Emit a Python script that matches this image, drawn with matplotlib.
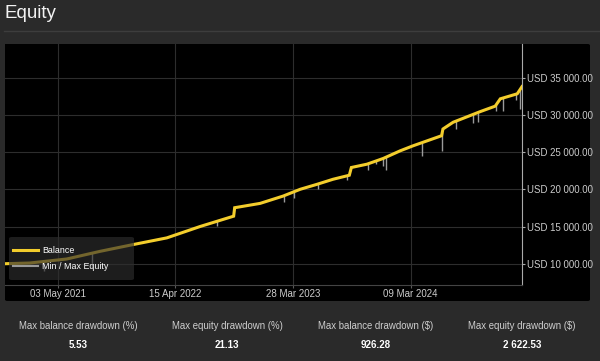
import numpy as np
import matplotlib
matplotlib.use("Agg")
import matplotlib.pyplot as plt
import matplotlib.dates as mdates
from matplotlib.patches import FancyBboxPatch
from matplotlib.ticker import FuncFormatter

plt.rcParams["font.family"] = ["Liberation Sans", "DejaVu Sans"]

# balance curve
balance_dates = np.array([
    "2020-11-29", "2021-02-10", "2021-05-30", "2021-09-05", "2021-12-11",
    "2022-03-21", "2022-06-27", "2022-10-04", "2022-10-07", "2022-12-21",
    "2023-02-27", "2023-04-18", "2023-06-07", "2023-07-24", "2023-09-10",
    "2023-09-16", "2023-11-01", "2023-12-19", "2024-02-07", "2024-03-16",
    "2024-06-08", "2024-06-12", "2024-07-12", "2024-09-30", "2024-11-13",
    "2024-11-28", "2025-01-17", "2025-01-31"], dtype="datetime64[D]")
balance_values = [
    10000, 10095, 10635, 11662, 12568,
    13473, 15000, 16392, 17527, 18108,
    19095, 20000, 20676, 21351, 21892,
    22932, 23378, 24149, 25176, 25851,
    27203, 28108, 29014, 30446, 31176,
    32162, 32838, 33800]

# min equity spikes
spike_dates = np.array([
    "2021-03-25", "2021-08-11", "2022-08-15", "2023-03-02", "2023-03-31",
    "2023-06-09", "2023-09-04", "2023-11-04", "2023-11-28", "2023-12-19",
    "2023-12-27", "2024-04-11", "2024-06-10", "2024-07-21", "2024-09-09",
    "2024-09-23", "2024-11-16", "2024-12-05", "2025-01-14", "2025-01-24"],
    dtype="datetime64[D]")
spike_lows = [
    9000, 9420, 15040, 18280, 18830,
    20000, 21220, 22600, 23380, 23150,
    22640, 24460, 25180, 28110, 28920,
    28990, 30580, 30540, 32030, 30740]

x_tick_dates = np.array(["2021-05-03", "2022-04-15", "2023-03-28", "2024-03-09"],
                        dtype="datetime64[D]")
y_ticks = [10000, 15000, 20000, 25000, 30000, 35000]

stat_labels = ["Max balance drawdown (%)", "Max equity drawdown (%)",
               "Max balance drawdown ($)", "Max equity drawdown ($)"]
stat_values = ["5.53", "21.13", "926.28", "2 622.53"]

BG = "#2a2a2a"
YELLOW = "#f3cd2c"
GREY = "#9a9a9a"

W, H = 600, 361
fig = plt.figure(figsize=(W / 100, H / 100), dpi=100, facecolor=BG)

# title + separator
fig.text(5 / W, 1 - 14 / H, "Equity", color="#f2f2f2", fontsize=13.5, va="center", ha="left")
fig.add_artist(plt.Line2D([4 / W, 1], [1 - 31 / H, 1 - 31 / H], color="#3d3d3d", lw=1))

# black panel behind the axes
panel = FancyBboxPatch((5 / W, 1 - 301 / H), 585 / W, 257 / H,
                       boxstyle="round,pad=0,rounding_size=0.004",
                       transform=fig.transFigure, facecolor="black", edgecolor="none",
                       zorder=-5)
fig.add_artist(panel)

ax = fig.add_axes([5 / W, 1 - 285 / H, 517 / W, 241 / H])
ax.set_facecolor("black")

bx = mdates.date2num(balance_dates)
sx = mdates.date2num(spike_dates)
spike_tops = np.interp(sx, bx, balance_values)

ax.vlines(spike_dates, spike_lows, spike_tops, color=GREY, lw=1.0, zorder=2)
ax.plot(balance_dates, balance_values, color=YELLOW, lw=2.2, zorder=3, label="Balance",
        solid_joinstyle="miter")
ax.plot([], [], color=GREY, lw=1.5, label="Min / Max Equity")

ax.set_xlim(balance_dates[0], balance_dates[-1])
ax.set_ylim(7140, 39530)

ax.set_xticks(x_tick_dates)
ax.xaxis.set_major_formatter(mdates.DateFormatter("%d %b %Y"))
ax.set_yticks(y_ticks)
ax.yaxis.set_major_formatter(FuncFormatter(lambda v, p: "USD " + f"{v:,.2f}".replace(",", " ")))
ax.yaxis.tick_right()

ax.grid(True, color="#2d2d2d", lw=0.8)
ax.set_axisbelow(True)
ax.tick_params(axis="x", colors="#5a5a5a", labelcolor="#cccccc", labelsize=7, length=2.2, pad=1)
ax.tick_params(axis="y", colors="#aaaaaa", labelcolor="#cccccc", labelsize=6.9, length=2, pad=1.5)

for s in ["left", "top"]:
    ax.spines[s].set_visible(False)
ax.spines["right"].set_color("#aaaaaa")
ax.spines["right"].set_linewidth(0.8)
ax.spines["bottom"].set_color("#444444")
ax.spines["bottom"].set_linewidth(0.8)

# legend: translucent box drawn separately, legend itself frameless
legend_bg = FancyBboxPatch((4 / 517, 5 / 241), 125 / 517, 43 / 241,
                           boxstyle="round,pad=0,rounding_size=0.006",
                           transform=ax.transAxes, facecolor="#2e2e2e", alpha=0.65,
                           edgecolor="none", zorder=4)
ax.add_patch(legend_bg)
leg = ax.legend(loc="center left", bbox_to_anchor=(8 / 517, 26.5 / 241), borderaxespad=0,
                borderpad=0, frameon=False, fontsize=6.4, labelcolor="white",
                handlelength=2.85, handletextpad=0.45, labelspacing=0.75)
leg.set_zorder(5)

# stats row
centers = [78, 227, 376, 522]
for cx, lab, val in zip(centers, stat_labels, stat_values):
    fig.text(cx / W, 1 - 326 / H, lab, color="#cfcfcf", fontsize=6.9, ha="center", va="center")
    fig.text(cx / W, 1 - 345 / H, val, color="white", fontsize=7, fontweight="bold",
             ha="center", va="center")

fig.savefig("out.png", dpi=100, facecolor=BG)
